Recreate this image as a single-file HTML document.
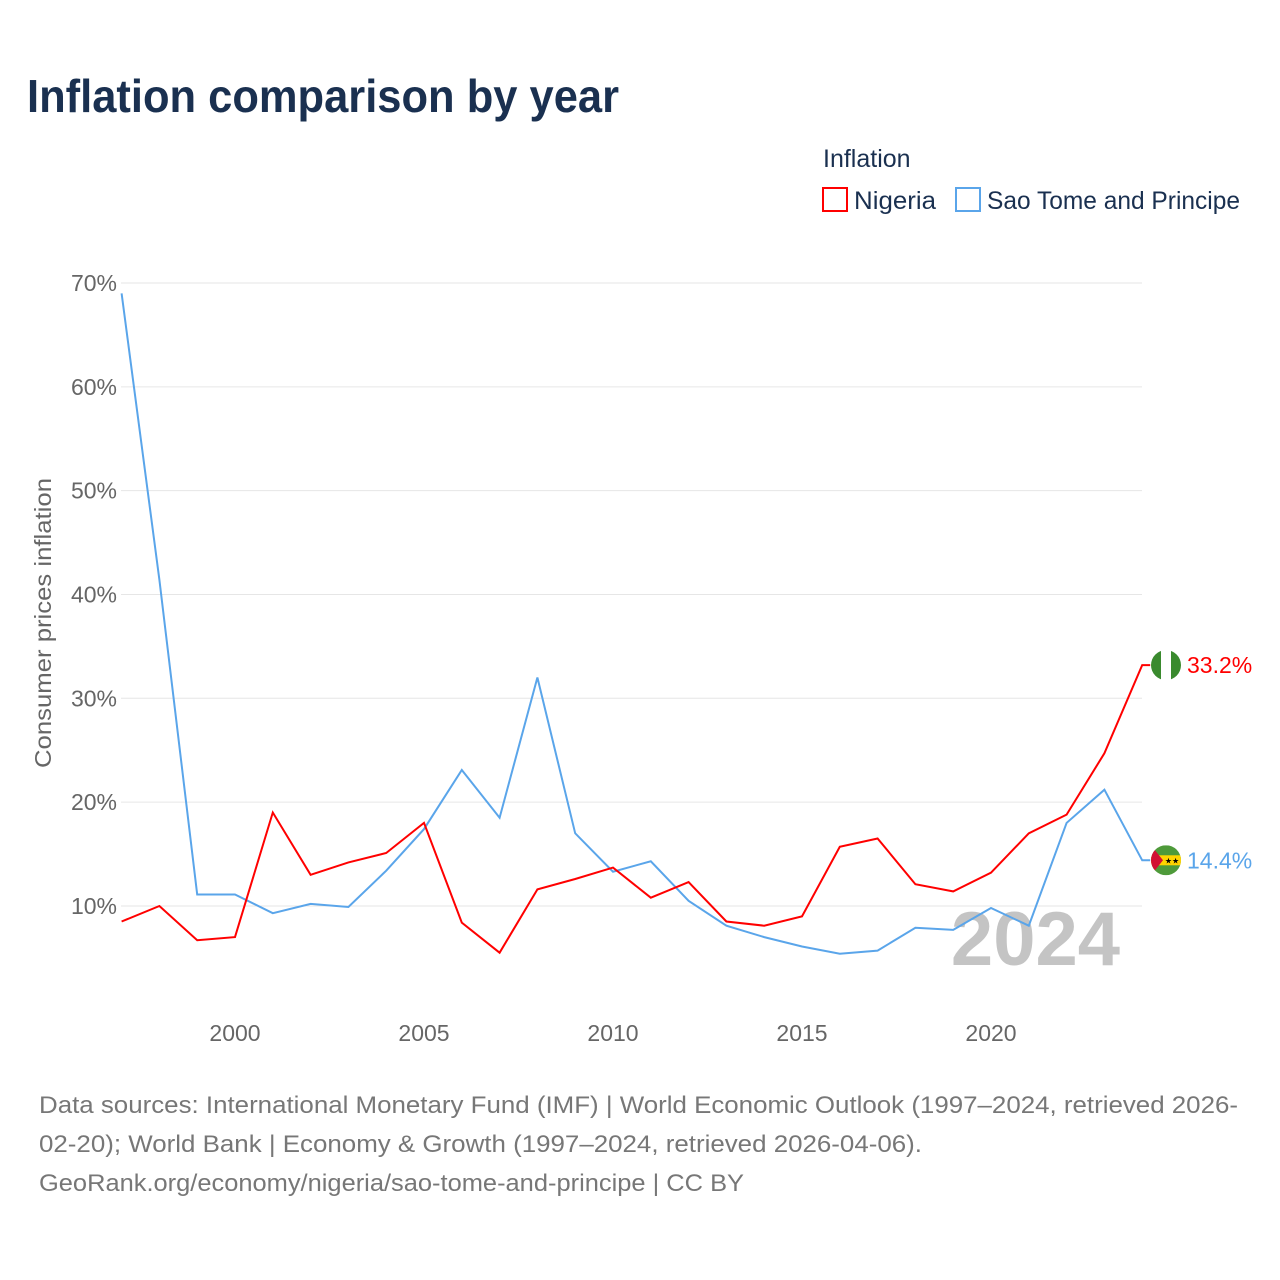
<!DOCTYPE html>
<html><head><meta charset="utf-8"><style>
body{margin:0;background:#fff;font-family:"Liberation Sans",sans-serif;}
#wrap{position:relative;width:1280px;height:1280px;overflow:hidden;}
</style></head><body>
<div id="wrap">
<svg id="chart" width="1280" height="1280">
<defs>
<clipPath id="cn"><circle cx="1166" cy="665" r="15"/></clipPath>
<clipPath id="cs"><circle cx="1166" cy="860" r="15"/></clipPath>
</defs>
</svg>
</div>
<script>
const years=[1997,1998,1999,2000,2001,2002,2003,2004,2005,2006,2007,2008,2009,2010,2011,2012,2013,2014,2015,2016,2017,2018,2019,2020,2021,2022,2023,2024];
const nigeria=[8.5,10.0,6.7,7.0,19.0,13.0,14.2,15.1,18.0,8.4,5.5,11.6,12.6,13.7,10.8,12.3,8.5,8.1,9.0,15.7,16.5,12.1,11.4,13.2,17.0,18.8,24.7,33.2];
const stp=[69.0,41.4,11.1,11.1,9.3,10.2,9.9,13.4,17.4,23.1,18.5,32.0,17.0,13.3,14.3,10.5,8.1,7.0,6.1,5.4,5.7,7.9,7.7,9.8,8.1,18.0,21.2,14.4];
const yTicks=[10,20,30,40,50,60,70];
const xTicks=[2000,2005,2010,2015,2020];

const svg=document.getElementById('chart');
const NS='http://www.w3.org/2000/svg';
function el(t,a,txt){const e=document.createElementNS(NS,t);for(const k in a)e.setAttribute(k,a[k]);if(txt!=null)e.textContent=txt;svg.appendChild(e);return e;}
const X=y=>121.6+(y-1997)*37.8;
const Y=v=>1009.8-v*10.383;

let e;
e=el('text',{x:27,y:112,'font-size':46,'font-weight':'bold',fill:'#1a3050',textLength:592,lengthAdjust:'spacingAndGlyphs'},'Inflation comparison by year');



yTicks.forEach(t=>{
 e=el('line',{x1:121,x2:1142,y1:Y(t),y2:Y(t),stroke:'#e6e6e6','stroke-width':1});
 
 
 e=el('text',{x:117,y:Y(t)+8,'text-anchor':'end','font-size':23,fill:'#666'},t+'%');
 
 
});
xTicks.forEach(t=>{
 e=el('text',{x:X(t),y:1041,'text-anchor':'middle','font-size':23,fill:'#666'},String(t));
 
 
});
e=el('text',{x:0,y:0,transform:'translate(51,623) rotate(-90)','text-anchor':'middle','font-size':23,fill:'#666',textLength:290,lengthAdjust:'spacingAndGlyphs'},'Consumer prices inflation');



e=el('text',{x:1120,y:965,'text-anchor':'end','font-size':76,'font-weight':'bold',fill:'#c4c4c4'},'2024');



function series(vals,color,name){
 const d=vals.map((v,i)=>(i?'L':'M')+X(years[i]).toFixed(1)+' '+Y(v).toFixed(1)).join(' ')+' L'+(X(2024)+8)+' '+Y(vals[vals.length-1]).toFixed(1);
 const p=el('path',{d:d,fill:'none',stroke:color,'stroke-width':2});
 
 
}
series(stp,'#5aa5ea','sao-tome-line');
series(nigeria,'#ff0000','nigeria-line');

const ny=Y(nigeria[nigeria.length-1]), sy=Y(stp[stp.length-1]);
document.querySelector('#cn circle').setAttribute('cy',ny);
document.querySelector('#cs circle').setAttribute('cy',sy);
e=el('g',{'clip-path':'url(#cn)'});


[['#3a8a2e',1151],['#fff',1161],['#3a8a2e',1171]].forEach(([c,x])=>{const r=document.createElementNS(NS,'rect');r.setAttribute('x',x);r.setAttribute('y',ny-15);r.setAttribute('width',10);r.setAttribute('height',30);r.setAttribute('fill',c);e.appendChild(r);});
e=el('text',{x:1187,y:ny+8,'font-size':23,fill:'#ff0000'},'33.2%');



e=el('g',{'clip-path':'url(#cs)'});


e.innerHTML=`<rect x="1151" y="${sy-15}" width="30" height="30" fill="#4e9a3a"/><rect x="1151" y="${sy-5}" width="30" height="10" fill="#ffd400"/><path d="M1151 ${sy-15} L1163 ${sy} L1151 ${sy+15} Z" fill="#d21034"/><text x="1172" y="${sy+3}" font-size="8" text-anchor="middle" fill="#000">★★</text>`;
e=el('text',{x:1187,y:sy+8,'font-size':23,fill:'#5aa5ea'},'14.4%');



e=el('text',{x:823,y:167,'font-size':25,fill:'#1a3050'},'Inflation');


e=el('rect',{x:823,y:188,width:24,height:23,fill:'none',stroke:'#ff0000','stroke-width':2});


e=el('text',{x:854,y:209,'font-size':25,fill:'#1a3050',textLength:82,lengthAdjust:'spacingAndGlyphs'},'Nigeria');


e=el('rect',{x:956,y:188,width:24,height:23,fill:'none',stroke:'#5aa5ea','stroke-width':2});


e=el('text',{x:987,y:209,'font-size':25,fill:'#1a3050',textLength:253,lengthAdjust:'spacingAndGlyphs'},'Sao Tome and Principe');



const foot=['Data sources: International Monetary Fund (IMF) | World Economic Outlook (1997–2024, retrieved 2026-','02-20); World Bank | Economy & Growth (1997–2024, retrieved 2026-04-06).','GeoRank.org/economy/nigeria/sao-tome-and-principe | CC BY'];
const footW=[1199,883,705];
foot.forEach((t,i)=>{
 e=el('text',{x:39,y:1113+i*39,'font-size':24,fill:'#777',textLength:footW[i],lengthAdjust:'spacingAndGlyphs'},t);
 
 
});
</script>
</body></html>
